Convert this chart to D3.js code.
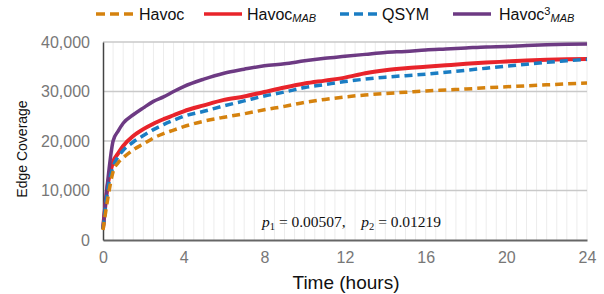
<!DOCTYPE html>
<html>
<head>
<meta charset="utf-8">
<script src="https://cdn.jsdelivr.net/npm/d3@7"></script>
<style>
  body { margin: 0; background: #fff; }
  svg { display: block; font-family: "Liberation Sans", Arial, sans-serif; }
</style>
</head>
<body>
<div id="chart"></div>
<script>
// time in hours
const hours = [0, 0.25, 0.5, 0.75, 1, 1.5, 2, 2.5, 3, 3.5, 4, 5, 6, 7, 8, 9, 10, 11, 12,
  13, 14, 15, 16, 17, 18, 19, 20, 21, 22, 23, 24];

const havoc = [2000, 8700, 13800, 15600, 16600, 18200, 19400, 20600, 21500, 22200, 22900,
  24000, 24800, 25500, 26300, 27000, 27800, 28400, 28900, 29300, 29600, 29850, 30100,
  30300, 30500, 30750, 30950, 31150, 31350, 31550, 31700];
const havocMab = [2300, 11500, 15800, 17500, 19000, 21000, 22400, 23500, 24400, 25200,
  26000, 27200, 28300, 29000, 29900, 30800, 31600, 32200, 32800, 33700, 34300, 34700,
  35000, 35300, 35600, 35850, 36050, 36250, 36400, 36500, 36560];
const qsym = [2300, 10500, 14800, 16800, 18100, 19800, 21100, 22300, 23300, 24200, 25000,
  26000, 27100, 28100, 29100, 29900, 30800, 31400, 32000, 32500, 32900, 33200, 33500,
  33900, 34300, 34700, 35100, 35500, 35900, 36200, 36500];
const havoc3Mab = [2200, 12500, 20000, 22000, 23600, 25300, 26700, 28000, 28900, 30000,
  31000, 32500, 33700, 34500, 35200, 35600, 36200, 36700, 37100, 37500, 37900, 38100,
  38400, 38600, 38800, 39000, 39100, 39300, 39450, 39550, 39600];

const xTicks = [0, 4, 8, 12, 16, 20, 24];
const yTicks = [0, 10000, 20000, 30000, 40000];

const series = [
  { key: "havocMab", values: havocMab, color: "#e8242b", dash: null, width: 4 },
  { key: "havoc3Mab", values: havoc3Mab, color: "#6d3a83", dash: null, width: 3.5 },
  { key: "qsym", values: qsym, color: "#1a7dc3", dash: "8,5", width: 3.5 },
  { key: "havoc", values: havoc, color: "#d5820e", dash: "8,5", width: 3.5 }
];

const W = 604, H = 294;
const margin = { left: 103, right: 17, top: 42, bottom: 54 };

const svg = d3.select("#chart").append("svg")
  .attr("width", W).attr("height", H);

const x = d3.scaleLinear().domain([0, 24]).range([margin.left, W - margin.right]);
const y = d3.scaleLinear().domain([0, 40000]).range([H - margin.bottom, margin.top]);

// minor vertical grid every half hour
svg.append("g")
  .selectAll("line")
  .data(d3.range(0.5, 24.01, 0.5))
  .enter().append("line")
  .attr("x1", d => x(d)).attr("x2", d => x(d))
  .attr("y1", y(0)).attr("y2", y(40000))
  .attr("stroke", "#ececec").attr("stroke-width", 1);

// major horizontal grid
svg.append("g")
  .selectAll("line")
  .data(yTicks.slice(1))
  .enter().append("line")
  .attr("x1", x(0)).attr("x2", x(24))
  .attr("y1", d => y(d)).attr("y2", d => y(d))
  .attr("stroke", "#c9c9c9").attr("stroke-width", 1.5);

// axes
const xAxis = svg.append("g")
  .attr("transform", `translate(0,${y(0)})`)
  .call(d3.axisBottom(x).tickValues(xTicks).tickSize(0).tickPadding(12));
xAxis.select(".domain").attr("stroke", "#666").attr("stroke-width", 2);
xAxis.selectAll("text").attr("fill", "#777").style("font-size", "16px")
  .style("font-family", "Liberation Sans, Arial, sans-serif");

const yAxis = svg.append("g")
  .attr("transform", `translate(${x(0)},0)`)
  .call(d3.axisLeft(y).tickValues(yTicks).tickSize(0).tickPadding(13)
    .tickFormat(d3.format(",")));
yAxis.select(".domain").attr("stroke", "#444").attr("stroke-width", 1.5);
yAxis.selectAll("text").attr("fill", "#777").style("font-size", "16px")
  .style("font-family", "Liberation Sans, Arial, sans-serif");

// axis titles
svg.append("text")
  .attr("x", (x(0) + x(24)) / 2 + 1).attr("y", 289)
  .attr("text-anchor", "middle")
  .style("font-size", "19px").attr("fill", "#111")
  .text("Time (hours)");

svg.append("text")
  .attr("transform", `translate(27,${(y(0) + y(40000)) / 2 + 8}) rotate(-90)`)
  .attr("text-anchor", "middle")
  .style("font-size", "14px").attr("fill", "#111")
  .text("Edge Coverage");

// lines
const line = d3.line()
  .x((d, i) => x(hours[i]))
  .y(d => y(d))
  .curve(d3.curveMonotoneX);

svg.append("g")
  .selectAll("path")
  .data(series)
  .enter().append("path")
  .attr("d", d => line(d.values))
  .attr("fill", "none")
  .attr("stroke", d => d.color)
  .attr("stroke-width", d => d.width)
  .attr("stroke-dasharray", d => d.dash)
  .attr("stroke-linejoin", "round");

// annotation
const note = svg.append("text")
  .attr("x", 262).attr("y", 226.5)
  .style("font-family", "Liberation Serif, Times New Roman, serif")
  .style("font-size", "15.5px").attr("fill", "#111");
note.append("tspan").style("font-style", "italic").text("p");
note.append("tspan").attr("dy", 3).style("font-size", "10.5px").text("1");
note.append("tspan").attr("dy", -3).text(" = 0.00507,\u2003");
note.append("tspan").style("font-style", "italic").text("p");
note.append("tspan").attr("dy", 3).style("font-size", "10.5px").text("2");
note.append("tspan").attr("dy", -3).text(" = 0.01219");

// legend
const legendItems = [
  { color: "#d5820e", dash: "9,5", x1: 96, x2: 134, tx: 139, label: "Havoc", sup: null, sub: null },
  { color: "#e8242b", dash: null, x1: 204, x2: 242, tx: 247, label: "Havoc", sup: null, sub: "MAB" },
  { color: "#1a7dc3", dash: "9,5", x1: 340, x2: 378, tx: 382, label: "QSYM", sup: null, sub: null },
  { color: "#6d3a83", dash: null, x1: 453, x2: 491, tx: 499, label: "Havoc", sup: "3", sub: "MAB" }
];
const ly = 14;
const leg = svg.append("g");
legendItems.forEach(it => {
  leg.append("line")
    .attr("x1", it.x1).attr("x2", it.x2).attr("y1", ly).attr("y2", ly)
    .attr("stroke", it.color).attr("stroke-width", 3.5)
    .attr("stroke-dasharray", it.dash);
  const t = leg.append("text")
    .attr("x", it.tx).attr("y", ly + 6)
    .style("font-size", "16px").attr("fill", "#111");
  t.append("tspan").text(it.label);
  if (it.sup) {
    t.append("tspan").attr("dy", -5).style("font-size", "11px").text(it.sup);
    t.append("tspan").attr("dy", 7).style("font-size", "11px").style("font-style", "italic").text(it.sub);
  } else if (it.sub) {
    t.append("tspan").attr("dy", 2).style("font-size", "11px").style("font-style", "italic").text(it.sub);
  }
});
</script>
</body>
</html>
